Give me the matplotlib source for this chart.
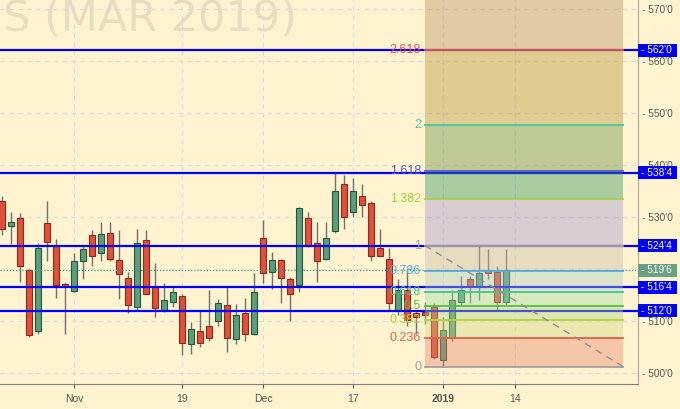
import numpy as np
import pandas as pd
import matplotlib
matplotlib.use("Agg")
import matplotlib.pyplot as plt
import matplotlib.transforms as mtransforms
from matplotlib.patches import Rectangle

plt.rcParams['font.family'] = ['Liberation Sans', 'DejaVu Sans']

# --- datos: velas diarias (futuros MAR 2019) ---
start_date = "2018-10-22"
holidays = ["2018-11-22", "2018-12-25", "2019-01-01"]

opens = [533.0, 528.25, 529.75, 519.75, 508.0, 528.75, 524.5, 517.0, 515.75, 521.5,
         526.5, 523.0, 527.0, 521.75, 518.25, 512.75, 525.5, 516.5, 512.0, 513.75,
         514.75, 505.5, 508.0, 509.0, 510.0, 513.0, 506.5, 511.5, 507.5, 526.0,
         519.5, 521.75, 518.0, 517.0, 529.75, 525.0, 522.0, 527.25, 536.25, 531.0,
         534.0, 532.75, 524.0, 522.0, 512.0, 516.0, 511.5, 511.75, 512.75, 502.5,
         506.75, 513.75, 518.0, 516.75, 519.75, 519.5, 513.75]
highs = [534.0, 531.0, 530.75, 520.0, 525.0, 533.0, 525.75, 517.5, 523.0, 524.5,
         527.5, 529.0, 529.0, 527.5, 519.5, 527.75, 527.5, 521.25, 517.25, 516.5,
         515.25, 509.75, 512.0, 516.0, 514.25, 516.75, 513.25, 514.5, 519.25, 529.5,
         523.25, 522.0, 518.5, 532.0, 531.0, 529.0, 529.0, 538.5, 538.0, 537.5,
         536.25, 533.0, 527.75, 524.0, 518.0, 520.0, 512.0, 513.75, 513.5, 510.75,
         516.0, 518.75, 518.75, 524.5, 523.75, 520.5, 523.75]
lows = [526.5, 524.75, 517.5, 507.0, 507.5, 521.5, 514.5, 507.5, 515.5, 518.0,
        520.5, 521.5, 521.5, 514.25, 511.5, 512.0, 515.25, 510.75, 511.75, 512.75,
        503.5, 503.75, 505.0, 506.25, 509.0, 504.0, 505.5, 506.25, 507.25, 517.25,
        516.25, 513.5, 510.0, 515.5, 524.25, 517.5, 521.75, 527.0, 527.75, 530.0,
        530.0, 521.5, 522.5, 512.0, 511.25, 509.0, 507.5, 509.5, 502.75, 501.25,
        506.25, 513.0, 513.5, 514.0, 518.0, 512.0, 513.0]
closes = [527.75, 529.0, 520.5, 507.25, 524.0, 525.25, 517.0, 516.75, 521.5, 523.75,
          522.5, 526.75, 522.0, 519.0, 513.0, 525.0, 515.25, 512.5, 514.0, 515.5,
          505.75, 508.5, 505.75, 506.75, 513.5, 506.75, 511.25, 507.5, 515.5, 519.25,
          521.75, 518.25, 515.25, 531.75, 524.5, 521.5, 526.0, 535.0, 530.0, 535.0,
          532.25, 522.5, 522.5, 513.5, 516.0, 510.25, 510.75, 511.25, 503.0, 508.25,
          514.0, 516.0, 516.75, 519.25, 519.25, 513.75, 519.75]

# etiquetas del eje x
tick_dates = ["2018-11-01", "2018-11-19", "2018-12-03", "2018-12-17", "2019-01-02", "2019-01-14"]
tick_labels = ["Nov", "19", "Dec", "17", "2019", "14"]

# niveles horizontales y retroceso de Fibonacci
support_levels = [562.0, 538.5, 524.5, 516.5, 512.0]
last_price = 519.75
fib_low = 501.25
fib_high = 524.5
fib_start_date = "2018-12-28"
fib_days = 22
fib_ratios = [0, 0.236, 0.382, 0.5, 0.618, 0.786, 1, 1.382, 1.618, 2, 2.618]
fib_names = ["0", "0.236", "0.382", "0.5", "0.618", "0.786", "1", "1.382", "1.618", "2", "2.618"]
fib_line_colors = ["#a0a0a0", "#e0604a", "#b4d040", "#50c040", "#40c890", "#58a8e0",
                   "#a0a0a0", "#a8d040", "#5858c8", "#40c8a0", "#e05050"]
fib_band_colors = ["#e6876c", "#cfd780", "#b1d780", "#9fe0a8", "#a8ccc4", "#c5b9a8",
                   "#9e94d0", "#26915a", "#5f8c3a", "#b28f30", "#b78f5d"]

BG = "#fff3d0"


def price_fmt(p):
    whole = int(np.floor(p))
    eighths = int(round((p - whole) * 8))
    return f"{whole}'{eighths}"


# calendario de sesiones
cal = pd.bdate_range(start_date, periods=90)
cal = cal[~cal.isin(pd.to_datetime(holidays))]
pos = {d: i for i, d in enumerate(cal)}

n = len(closes)
x = np.arange(n)
o = np.array(opens)
h = np.array(highs)
l = np.array(lows)
c = np.array(closes)
up = c >= o

fig = plt.figure(figsize=(6.8, 4.09), dpi=100, facecolor=BG)
ax = fig.add_axes([0, 25 / 409, 637.5 / 680, 384 / 409], facecolor=BG)

ax.set_xlim(-0.22, 70.6)
ax.set_ylim(497.9, 571.7)

# marca de agua
ax.text(0.466, 0.918, "WHEAT FUTURES (MAR 2019)", transform=ax.transAxes, ha='right',
        va='baseline', fontsize=31, family='DejaVu Sans', color='#e8ddbf', zorder=0.5)

# velas
ax.vlines(x, l, h, color='#707070', lw=1, zorder=2)
body_h = np.maximum(np.abs(c - o), 0.35)
body_b = np.minimum(o, c)
ax.bar(x[up], body_h[up], bottom=body_b[up], width=0.63, color='#5c9e7c',
       edgecolor='#24553a', lw=0.8, zorder=2.2)
ax.bar(x[~up], body_h[~up], bottom=body_b[~up], width=0.63, color='#e0503c',
       edgecolor='#8a2a1a', lw=0.8, zorder=2.2)

# lineas de soporte / resistencia
for lvl in support_levels:
    ax.axhline(lvl, color='#0000ff', lw=1.6, zorder=3)
ax.axhline(last_price, color='#3a9a78', lw=0.9, ls=(0, (1, 1.5)), zorder=3)

# Fibonacci
fs = pos[pd.Timestamp(fib_start_date)]
fe = fs + fib_days
fib_prices = [fib_low + r * (fib_high - fib_low) for r in fib_ratios]
tops = fib_prices[1:] + [ax.get_ylim()[1]]
for p0, p1, col in zip(fib_prices, tops, fib_band_colors):
    ax.fill_between([fs, fe], p0, p1, color=col, alpha=0.4, lw=0, zorder=4)
for p, name, col in zip(fib_prices, fib_names, fib_line_colors):
    ax.plot([fs, fe], [p, p], color=col, lw=1.3, zorder=4.2)
    ax.text(fs - 0.45, p, name, ha='right', va='center', fontsize=9, color=col, zorder=6)
ax.plot([fs, fe], [fib_high, fib_low], color='#909090', lw=1, ls=(0, (5, 4)), zorder=4.3)

# ejes
ax.grid(True, color='#d8dce6', ls=(0, (4, 4)), lw=0.8, zorder=0)
ax.set_axisbelow(True)
ax.set_xticks([pos[pd.Timestamp(d)] for d in tick_dates])
ax.set_xticklabels(tick_labels)
for t in ax.get_xticklabels():
    if t.get_text().isdigit() and len(t.get_text()) == 4:
        t.set_fontweight('bold')
ax.tick_params(axis='x', labelsize=7.5, colors='#555555', length=3, pad=4)

ax.yaxis.tick_right()
yt = np.arange(500, 571, 10)
ax.set_yticks(yt)
ax.set_yticklabels(["- " + price_fmt(v) for v in yt])
ax.tick_params(axis='y', labelsize=7.3, colors='#555555', length=0, pad=3)

for s in ['left', 'top']:
    ax.spines[s].set_visible(False)
ax.spines['bottom'].set_color('#808080')
ax.spines['right'].set_color('#a8a8a8')

# cajas de precio en el eje derecho
trans = mtransforms.blended_transform_factory(ax.transAxes, ax.transData)
box_w = 39.7 / 637.5
box_h = 13.3 / 5.2
for lvl, col in [(v, '#0000ff') for v in support_levels] + [(last_price, '#6aa183')]:
    ax.add_patch(Rectangle((1.0, lvl - box_h / 2), box_w, box_h, transform=trans,
                           facecolor=col, edgecolor='none', clip_on=False, zorder=7))
    ax.text(1.0 + 3.5 / 637.5, lvl, "- " + price_fmt(lvl), transform=trans, ha='left',
            va='center', fontsize=7.3, color='white', clip_on=False, zorder=8)

fig.savefig("out.png", dpi=100, facecolor=BG)
